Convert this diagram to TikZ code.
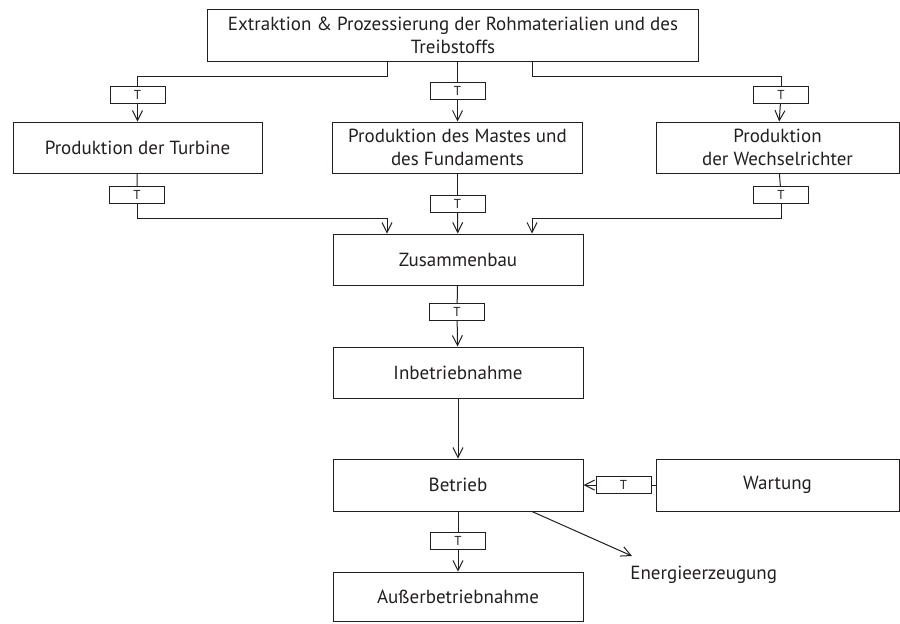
\documentclass[tikz,border=0pt]{standalone}
\usepackage{fontspec}
\setmainfont{PT Sans}
\usetikzlibrary{arrows.meta,calc}
\definecolor{lcaInk}{HTML}{231F20}
\tikzset{
  lca line/.style={draw=lcaInk, line width=0.5pt},
  lca arrow/.style={lca line, -{Straight Barb[length=5pt,width=5pt,line width=0.5pt]}},
  lca stage/.style={lca line, minimum width=125pt, minimum height=25.5pt, inner sep=1pt, align=center, text=lcaInk, font=\fontsize{9.5}{11.5}\selectfont},
  lca t/.style={lca line, minimum width=27.5pt, minimum height=8.5pt, inner sep=0pt, text=lcaInk, font=\fontsize{6.5}{7}\selectfont},
}

\begin{document}
\begin{tikzpicture}[x=0.5pt,y=-0.5pt]
\useasboundingbox (0,0) rectangle (900,623);
% stages
\node[lca stage,minimum width=245.5pt,minimum height=26pt](extraktion)at(453,35){Extraktion \& Prozessierung der Rohmaterialien und des\\Treibstoffs};
\node[lca stage,minimum width=124.5pt](turbine)at(137.5,147.5){Produktion der Turbine};
\node[lca stage](mast)at(457.5,147.5){Produktion des Mastes und\\des Fundaments};
\node[lca stage,minimum width=121.5pt](wechsel)at(777.5,147.5){Produktion\\der Wechselrichter};
\node[lca stage](zusammen)at(458,259.5){Zusammenbau};
\node[lca stage](inbetrieb)at(458,372.5){Inbetriebnahme};
\node[lca stage,minimum height=26pt](betrieb)at(458,485){Betrieb};
\node[lca stage,minimum width=121.5pt,minimum height=26pt](wartung)at(777.5,485){Wartung};
\node[lca stage,minimum height=24.5pt](ausser)at(458,596.5){Außerbetriebnahme};
\node[anchor=west,inner sep=0pt,text=lcaInk,font=\fontsize{9.5}{11.5}\selectfont](energie)at(630,575){Energieerzeugung};
% transport boxes
\foreach \n/\x/\y in {tturbA/137.5/94.5,tmastA/457.5/91,twechA/781/94.5,tturbB/137/195,tmastB/457.5/204,twechB/781/195,tzus/457/312,tbetr/458/541,twart/623.5/485}
  \node[lca t](\n)at(\x,\y){T};
\coordinate(splitL)at(387,76);\coordinate(splitR)at(532,76);
\coordinate(mergeL)at(387,218);\coordinate(mergeR)at(532,218);
\coordinate(energietip)at(632,556);
% connectors
\draw[lca line](splitL|-extraktion.south)--(splitL)-|(tturbA.north);\draw[lca arrow](tturbA)--(turbine);
\draw[lca line](extraktion.south-|tmastA)--(tmastA);\draw[lca arrow](tmastA)--(mast);
\draw[lca line](splitR|-extraktion.south)--(splitR)-|(twechA.north);\draw[lca arrow](twechA)--(wechsel);
\foreach \a/\b in {turbine/tturbB,mast/tmastB,wechsel/twechB,zusammen/tzus,betrieb/tbetr,wartung/twart}\draw[lca line](\a)--(\b);
\draw[lca arrow](tturbB.south)|-(mergeL)--(mergeL|-zusammen.north);
\draw[lca arrow](tmastB)--(zusammen);
\draw[lca arrow](twechB.south)|-(mergeR)--(mergeR|-zusammen.north);
\draw[lca arrow](tzus)--(inbetrieb);\draw[lca arrow](inbetrieb)--(betrieb);
\draw[lca arrow](twart)--(betrieb);\draw[lca arrow](tbetr)--(ausser);
\draw[lca arrow]($(betrieb.south)+(74,0)$)--(energietip);
\end{tikzpicture}
\end{document}
